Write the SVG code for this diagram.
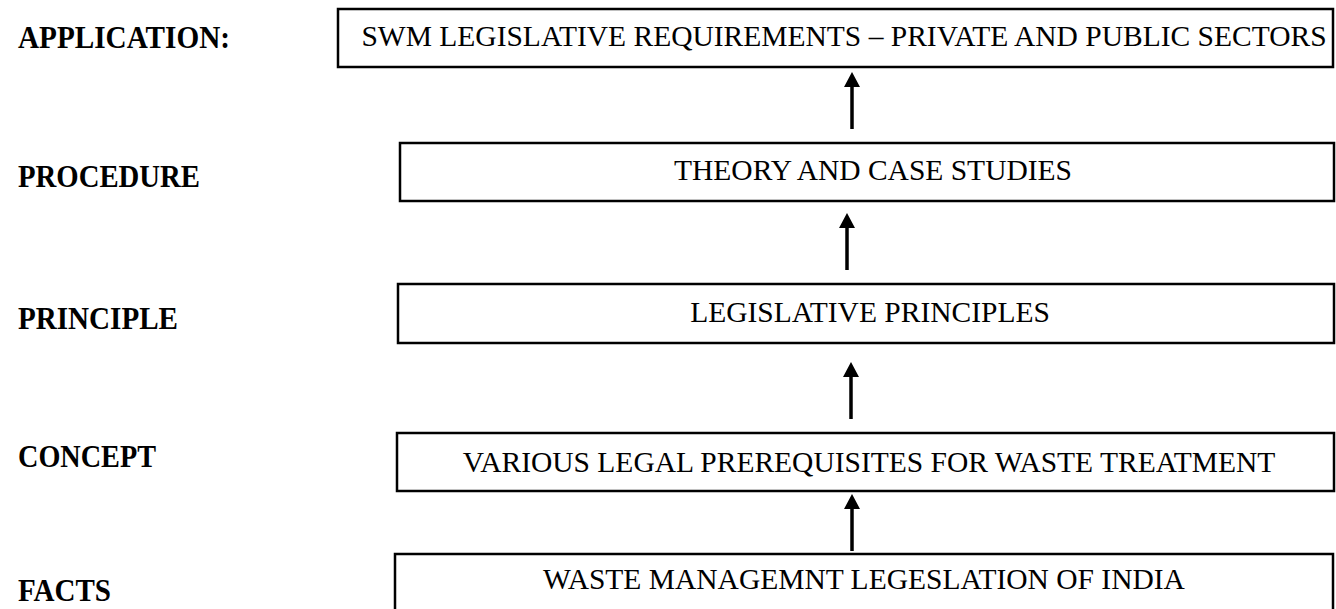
<svg xmlns="http://www.w3.org/2000/svg" width="1336" height="609" viewBox="0 0 1336 609">
<style>
.lbl{font-family:"Liberation Serif","Times New Roman",serif;font-weight:bold;font-size:32px;fill:#000}
.box{fill:#fff;stroke:#000;stroke-width:2.5}
.txt{font-family:"Liberation Serif","Times New Roman",serif;font-size:29.5px;fill:#000;text-anchor:middle}
.conn line{stroke:#000;stroke-width:3.5}
.conn polygon{fill:#000}
</style>
<rect width="1336" height="609" fill="#fff"/>
<g id="labels">
<text class="lbl" x="18" y="48" textLength="212" lengthAdjust="spacingAndGlyphs">APPLICATION:</text>
<text class="lbl" x="18" y="187" textLength="182" lengthAdjust="spacingAndGlyphs">PROCEDURE</text>
<text class="lbl" x="18" y="329" textLength="160" lengthAdjust="spacingAndGlyphs">PRINCIPLE</text>
<text class="lbl" x="18" y="467" textLength="138" lengthAdjust="spacingAndGlyphs">CONCEPT</text>
<text class="lbl" x="18" y="601" textLength="93" lengthAdjust="spacingAndGlyphs">FACTS</text>
</g>
<g id="n-application">
<rect class="box" x="338" y="9" width="995" height="58"/>
<text class="txt" x="844" y="46">SWM LEGISLATIVE REQUIREMENTS – PRIVATE AND PUBLIC SECTORS</text>
</g>
<g id="n-procedure">
<rect class="box" x="400" y="143" width="934" height="58"/>
<text class="txt" x="873" y="180">THEORY AND CASE STUDIES</text>
</g>
<g id="n-principle">
<rect class="box" x="398" y="284" width="936" height="59"/>
<text class="txt" x="870" y="322">LEGISLATIVE PRINCIPLES</text>
</g>
<g id="n-concept">
<rect class="box" x="397" y="433" width="937" height="58"/>
<text class="txt" x="869" y="472">VARIOUS LEGAL PREREQUISITES FOR WASTE TREATMENT</text>
</g>
<g id="n-facts">
<rect class="box" x="395" y="554" width="938" height="60"/>
<text class="txt" x="864" y="589">WASTE MANAGEMNT LEGESLATION OF INDIA</text>
</g>
<g class="conn" id="connectors">
<line x1="852" y1="129" x2="852" y2="84"/>
<polygon points="852,72 844,87 860,87"/>
<line x1="847" y1="270" x2="847" y2="225"/>
<polygon points="847,213 839,228 855,228"/>
<line x1="851" y1="419" x2="851" y2="374"/>
<polygon points="851,362 843,377 859,377"/>
<line x1="852" y1="551" x2="852" y2="506"/>
<polygon points="852,494 844,509 860,509"/>
</g>
</svg>
